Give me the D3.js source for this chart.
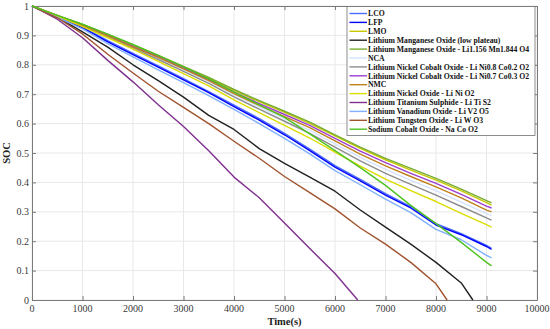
<!DOCTYPE html>
<html>
<head>
<meta charset="utf-8">
<script src="https://cdn.jsdelivr.net/npm/d3@7"></script>
<style>
	body { margin: 0; background: #ffffff; }
	text { font-family: "Liberation Serif", "Times New Roman", serif; }
	.grid line { stroke: #e8e8e8; stroke-width: 1; }
	.tickText { font-size: 10px; fill: #3a3a3a; }
	.axisText { font-size: 10.5px; font-weight: bold; fill: #222222; }
	.legendText { font-size: 7.7px; font-weight: bold; fill: #111111; }
</style>
</head>
<body>
<div id="containerChart"></div>
<script>

// sample times (s) shared by the series
var times = [0, 500, 1000, 1500, 2000, 2500, 3000, 3500, 4000, 4500, 5000, 5500, 6000, 6500, 7000, 7500, 8000, 8500, 9000, 9100];

// series that hit zero early get their own times
var timesLMOLow = [0, 500, 1000, 1500, 2000, 2500, 3000, 3500, 4000, 4500, 5000, 5500, 6000, 6500, 7000, 7500, 8000, 8500, 8730];
var timesLWO = [0, 500, 1000, 1500, 2000, 2500, 3000, 3500, 4000, 4500, 5000, 5500, 6000, 6500, 7000, 7500, 8000, 8220];
var timesLTS = [0, 500, 1000, 1500, 2000, 2500, 3000, 3500, 4000, 4500, 5000, 5500, 6000, 6450];

// state of charge
var socLCO = [1, .964, .928, .882, .839, .796, .753, .709, .663, .617, .567, .513, .457, .410, .362, .318, .260, .226, .186, .176];
var socLFP = [1, .963, .926, .878, .835, .792, .749, .705, .658, .612, .562, .508, .452, .405, .357, .313, .255, .222, .182, .172];
var socLMO = [1, .968, .936, .901, .866, .830, .793, .755, .713, .675, .638, .601, .558, .516, .477, .442, .408, .371, .331, .323];
var socLMOLow = [1, .962, .912, .860, .800, .746, .690, .628, .580, .515, .465, .418, .370, .306, .248, .190, .128, .058, 0];
var socLMOLi = [1, .968, .937, .903, .868, .832, .795, .757, .716, .678, .642, .605, .562, .520, .482, .448, .414, .377, .338, .330];
var socNCA = [1, .967, .933, .897, .860, .822, .783, .743, .698, .657, .617, .577, .531, .485, .444, .407, .372, .333, .294, .287];
var socNCO82 = [1, .966, .932, .895, .857, .818, .778, .737, .691, .649, .608, .567, .520, .473, .431, .393, .357, .318, .279, .272];
var socNCO73 = [1, .967, .935, .900, .863, .827, .789, .750, .707, .668, .631, .594, .550, .506, .467, .431, .397, .359, .319, .313];
var socNMC = [1, .967, .934, .899, .861, .825, .786, .746, .702, .662, .624, .586, .541, .496, .456, .420, .385, .347, .306, .300];
var socLNO = [1, .966, .930, .892, .853, .812, .770, .728, .681, .637, .594, .551, .503, .455, .411, .372, .335, .295, .256, .248];
var socLTS = [1, .955, .892, .815, .742, .664, .590, .508, .418, .348, .262, .175, .090, 0];
var socLVO = [1, .961, .922, .872, .827, .783, .739, .695, .648, .600, .550, .497, .440, .392, .343, .297, .240, .205, .152, .143];
var socLWO = [1, .960, .905, .836, .772, .710, .655, .600, .540, .482, .420, .365, .310, .245, .190, .128, .055, 0];
var socNCOx = [1, .968, .938, .904, .869, .832, .793, .752, .707, .664, .621, .565, .508, .450, .390, .322, .260, .196, .128, .116];

// legend names in drawing order
var names = [
	"LCO",
	"LFP",
	"LMO",
	"Lithium Manganese Oxide (low plateau)",
	"Lithium Manganese Oxide - Li1.156 Mn1.844 O4",
	"NCA",
	"Lithium Nickel Cobalt Oxide - Li Ni0.8 Co0.2 O2",
	"Lithium Nickel Cobalt Oxide - Li Ni0.7 Co0.3 O2",
	"NMC",
	"Lithium Nickel Oxide - Li Ni O2",
	"Lithium Titanium Sulphide - Li Ti S2",
	"Lithium Vanadium Oxide - Li V2 O5",
	"Lithium Tungsten Oxide - Li W O3",
	"Sodium Cobalt Oxide - Na Co O2"
];
var seriesTimes = [times, times, times, timesLMOLow, times, times, times, times, times, times, timesLTS, times, timesLWO, times];
var seriesSoc = [socLCO, socLFP, socLMO, socLMOLow, socLMOLi, socNCA, socNCO82, socNCO73, socNMC, socLNO, socLTS, socLVO, socLWO, socNCOx];
var colors = ["#4a6cff", "#0000ff", "#c8c800", "#202020", "#77ac30", "#d4e2ff", "#8c8c8c", "#9b3fd0",
	"#c0801a", "#dcdc00", "#7e2f8e", "#80b0ff", "#a0522d", "#4fc21f"];

// tick values
var xTicks = [0, 1000, 2000, 3000, 4000, 5000, 6000, 7000, 8000, 9000, 10000];
var yTicks = [0, 0.1, 0.2, 0.3, 0.4, 0.5, 0.6, 0.7, 0.8, 0.9, 1];

function drawChart() {

	var width = 550;
	var height = 329;
	var margin = {left: 32, top: 6, right: 13, bottom: 29};

	var svg = d3.select("#containerChart")
		.append("svg")
		.attr("width", width)
		.attr("height", height);

	var scaleX = d3.scaleLinear()
		.domain([0, 10000])
		.range([margin.left, width - margin.right]);
	var scaleY = d3.scaleLinear()
		.domain([0, 1])
		.range([height - margin.bottom, margin.top]);

	var left = margin.left;
	var right = width - margin.right;
	var top = margin.top;
	var bottom = height - margin.bottom;

	// grid lines
	var grid = svg.append("g").attr("class", "grid");
	grid.selectAll(".gx")
		.data(xTicks)
		.enter()
		.append("line")
		.attr("x1", function(d) { return scaleX(d); })
		.attr("x2", function(d) { return scaleX(d); })
		.attr("y1", top)
		.attr("y2", bottom);
	grid.selectAll(".gy")
		.data(yTicks)
		.enter()
		.append("line")
		.attr("x1", left)
		.attr("x2", right)
		.attr("y1", function(d) { return scaleY(d); })
		.attr("y2", function(d) { return scaleY(d); });

	// axes, ticks pointing inward
	var xAxis = d3.axisBottom(scaleX).tickValues(xTicks).tickSizeInner(-4).tickSizeOuter(0).tickFormat("");
	var xAxisTop = d3.axisTop(scaleX).tickValues(xTicks).tickSizeInner(-4).tickSizeOuter(0).tickFormat("");
	var yAxis = d3.axisLeft(scaleY).tickValues(yTicks).tickSizeInner(-4).tickSizeOuter(0).tickFormat("");
	var yAxisRight = d3.axisRight(scaleY).tickValues(yTicks).tickSizeInner(-4).tickSizeOuter(0).tickFormat("");

	var axes = [
		[xAxis, "translate(0," + bottom + ")"],
		[xAxisTop, "translate(0," + top + ")"],
		[yAxis, "translate(" + left + ",0)"],
		[yAxisRight, "translate(" + right + ",0)"]
	];
	axes.forEach(function(a) {
		var g = svg.append("g")
			.attr("transform", a[1])
			.call(a[0]);
		g.selectAll("path").attr("stroke", "#7a7a7a");
		g.selectAll("line").attr("stroke", "#7a7a7a");
	});

	// tick labels
	svg.selectAll(".xLabel")
		.data(xTicks)
		.enter()
		.append("text")
		.attr("class", "tickText")
		.attr("x", function(d) { return scaleX(d); })
		.attr("y", bottom + 12)
		.style("text-anchor", "middle")
		.text(function(d) { return d; });
	svg.selectAll(".yLabel")
		.data(yTicks)
		.enter()
		.append("text")
		.attr("class", "tickText")
		.attr("x", left - 3)
		.attr("y", function(d) { return scaleY(d) + 3.5; })
		.style("text-anchor", "end")
		.text(function(d) { return d3.format("~g")(d); });

	// axis titles
	svg.append("text")
		.attr("class", "axisText")
		.attr("x", (left + right) / 2)
		.attr("y", height - 4)
		.style("text-anchor", "middle")
		.text("Time(s)");
	svg.append("text")
		.attr("class", "axisText")
		.attr("transform", "translate(10," + ((top + bottom) / 2) + ") rotate(-90)")
		.style("text-anchor", "middle")
		.text("SOC");

	// curves
	var line = d3.line()
		.x(function(d) { return scaleX(d[0]); })
		.y(function(d) { return scaleY(d[1]); });

	for (var i = 0; i < names.length; i ++) {
		var pts = seriesTimes[i].map(function(t, j) { return [t, seriesSoc[i][j]]; });
		svg.append("path")
			.datum(pts)
			.attr("d", line)
			.attr("fill", "none")
			.attr("stroke", colors[i])
			.attr("stroke-width", 1.4)
			.attr("stroke-linejoin", "round");
	};

	// legend
	var legX = 347;
	var legY = 6.5;
	var rowH = 8.9;
	var legend = svg.append("g");
	legend.append("rect")
		.attr("x", legX)
		.attr("y", legY)
		.attr("width", 188)
		.attr("height", 129)
		.attr("fill", "#ffffff")
		.attr("stroke", "#707070")
		.attr("stroke-width", 0.8);

	var rows = legend.selectAll(".row")
		.data(names)
		.enter()
		.append("g")
		.attr("transform", function(d, i) {
			return "translate(0," + (legY + 7 + i * rowH) + ")";
		});
	rows.append("line")
		.attr("x1", legX + 2.5)
		.attr("x2", legX + 20)
		.attr("y1", 0)
		.attr("y2", 0)
		.attr("stroke", function(d, i) { return colors[i]; })
		.attr("stroke-width", 1.4);
	rows.append("text")
		.attr("class", "legendText")
		.attr("x", legX + 21)
		.attr("y", 2.7)
		.text(function(d) { return d; });
};

drawChart();
</script>
</body>
</html>
